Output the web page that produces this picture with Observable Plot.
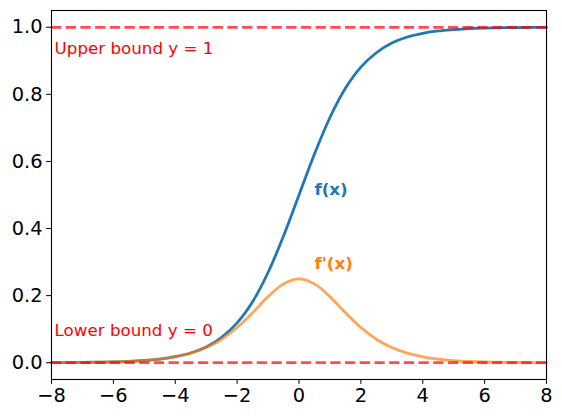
<!DOCTYPE html>
<html><head><meta charset="utf-8">
<script src="https://cdn.jsdelivr.net/npm/d3@7"></script>
<script src="https://cdn.jsdelivr.net/npm/@observablehq/plot@0.6"></script>
<style>body{margin:0;background:#fff;} svg{display:block;}</style>
</head><body><div id="chart"></div>
<script>
const xs = [-8,-7.5,-7,-6.5,-6,-5.5,-5,-4.5,-4,-3.5,-3,-2.5,-2,-1.5,-1,-0.5,0,0.5,1,1.5,2,2.5,3,3.5,4,4.5,5,5.5,6,6.5,7,7.5,8];
const fVals = [0.0003,0.0006,0.0009,0.0015,0.0025,0.0041,0.0067,0.011,0.018,0.029,0.047,0.076,0.119,0.182,0.269,0.378,0.5,0.622,0.731,0.818,0.881,0.924,0.953,0.971,0.982,0.989,0.993,0.996,0.9975,0.9985,0.9991,0.9994,0.9997];
const dVals = [0.0003,0.0006,0.0009,0.0015,0.0025,0.0041,0.0066,0.0109,0.0177,0.0285,0.0452,0.0701,0.105,0.149,0.197,0.235,0.25,0.235,0.197,0.149,0.105,0.0701,0.0452,0.0285,0.0177,0.0109,0.0066,0.0041,0.0025,0.0015,0.0009,0.0006,0.0003];
const xTicks = [-8,-6,-4,-2,0,2,4,6,8];
const yTicks = [0,0.2,0.4,0.6,0.8,1.0];
const bounds = [1, 0];
const boundLabels = [
  {x:-7.9, y:0.92, text:"Upper bound y = 1"},
  {x:-7.9, y:0.08, text:"Lower bound y = 0"}
];
const curveLabels = [
  {x:0.5, y:0.5, text:"f(x)", color:"#1f77b4"},
  {x:0.5, y:0.28, text:"f'(x)", color:"#ff7f0e"}
];

const fData = xs.map((x,i)=>({x, y:fVals[i]}));
const dData = xs.map((x,i)=>({x, y:dVals[i]}));

const chart = Plot.plot({
  width: 562, height: 418,
  marginLeft: 51, marginRight: 16, marginTop: 10, marginBottom: 39,
  style: {fontFamily: "DejaVu Sans", background: "#fff", color: "#000"},
  x: {domain: [-8, 8]},
  y: {domain: [-0.05, 1.05]},
  marks: [
    Plot.line(fData, {x:"x", y:"y", stroke:"#1f77b4", strokeWidth:2.78, curve:"catmull-rom"}),
    Plot.line(dData, {x:"x", y:"y", stroke:"#ff7f0e", strokeOpacity:0.7, strokeWidth:2.78, curve:"catmull-rom"}),
    Plot.ruleY(bounds, {stroke:"red", strokeOpacity:0.7, strokeWidth:2.78, strokeDasharray:"10.3,4.4"}),
    Plot.text(boundLabels, {x:"x", y:"y", text:"text", fill:"red", fontSize:16.7, textAnchor:"start", lineAnchor:"bottom"}),
    Plot.text(curveLabels, {x:"x", y:"y", text:"text", fill:"color", fontSize:16.7, fontWeight:"bold", textAnchor:"start", lineAnchor:"bottom"}),
    Plot.frame({stroke:"#000", strokeWidth:1.1}),
    Plot.axisX({ticks: xTicks, tickSize:4.9, tickPadding:4, fontSize:19.4, label:null, tickFormat: d => d3.format("d")(d).replace("-", "\u2212")}),
    Plot.axisY({ticks: yTicks, tickSize:4.9, tickPadding:4, fontSize:19.4, label:null, tickFormat: d => d.toFixed(1)})
  ]
});
document.getElementById("chart").appendChild(chart);
</script></body></html>
